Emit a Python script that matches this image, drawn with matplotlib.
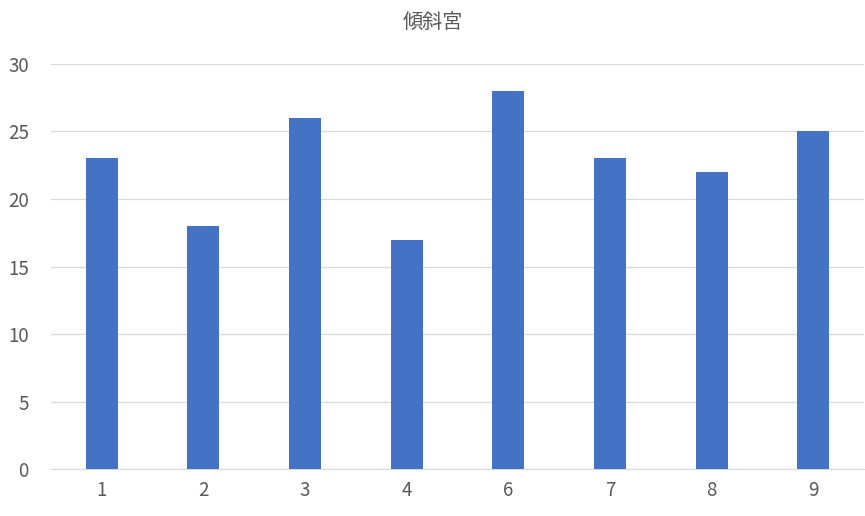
import matplotlib
matplotlib.use("Agg")
import matplotlib.pyplot as plt
import numpy as np

plt.rcParams['font.family'] = ['Noto Sans CJK JP', 'DejaVu Sans']

categories = ['1', '2', '3', '4', '6', '7', '8', '9']
values = [23, 18, 26, 17, 28, 23, 22, 25]
title = '傾斜宮'

fig = plt.figure(figsize=(8.65, 5.16), dpi=100)
ax = fig.add_axes([0.059, 0.091, 0.94, 0.785])

x = np.arange(len(categories))
ax.bar(x, values, width=0.315, color='#4472C4', zorder=3)

ax.set_xlim(-0.5, len(categories) - 0.5)
ax.set_ylim(0, 30)
ax.set_yticks(range(0, 31, 5))
ax.set_xticks(x)
ax.set_xticklabels(categories)
ax.grid(axis='y', color='#D9D9D9', linewidth=0.9, zorder=0)
for s in ['top', 'right', 'left']:
    ax.spines[s].set_visible(False)
ax.spines['bottom'].set_color('#D9D9D9')
ax.tick_params(axis='both', length=0, labelsize=13.5, colors='#595959')
ax.tick_params(axis='y', pad=16)
ax.tick_params(axis='x', pad=8)

fig.text(0.5, 0.957, title, ha='center', va='center', fontsize=14.5, color='#595959')

fig.savefig('out.png', dpi=100)
